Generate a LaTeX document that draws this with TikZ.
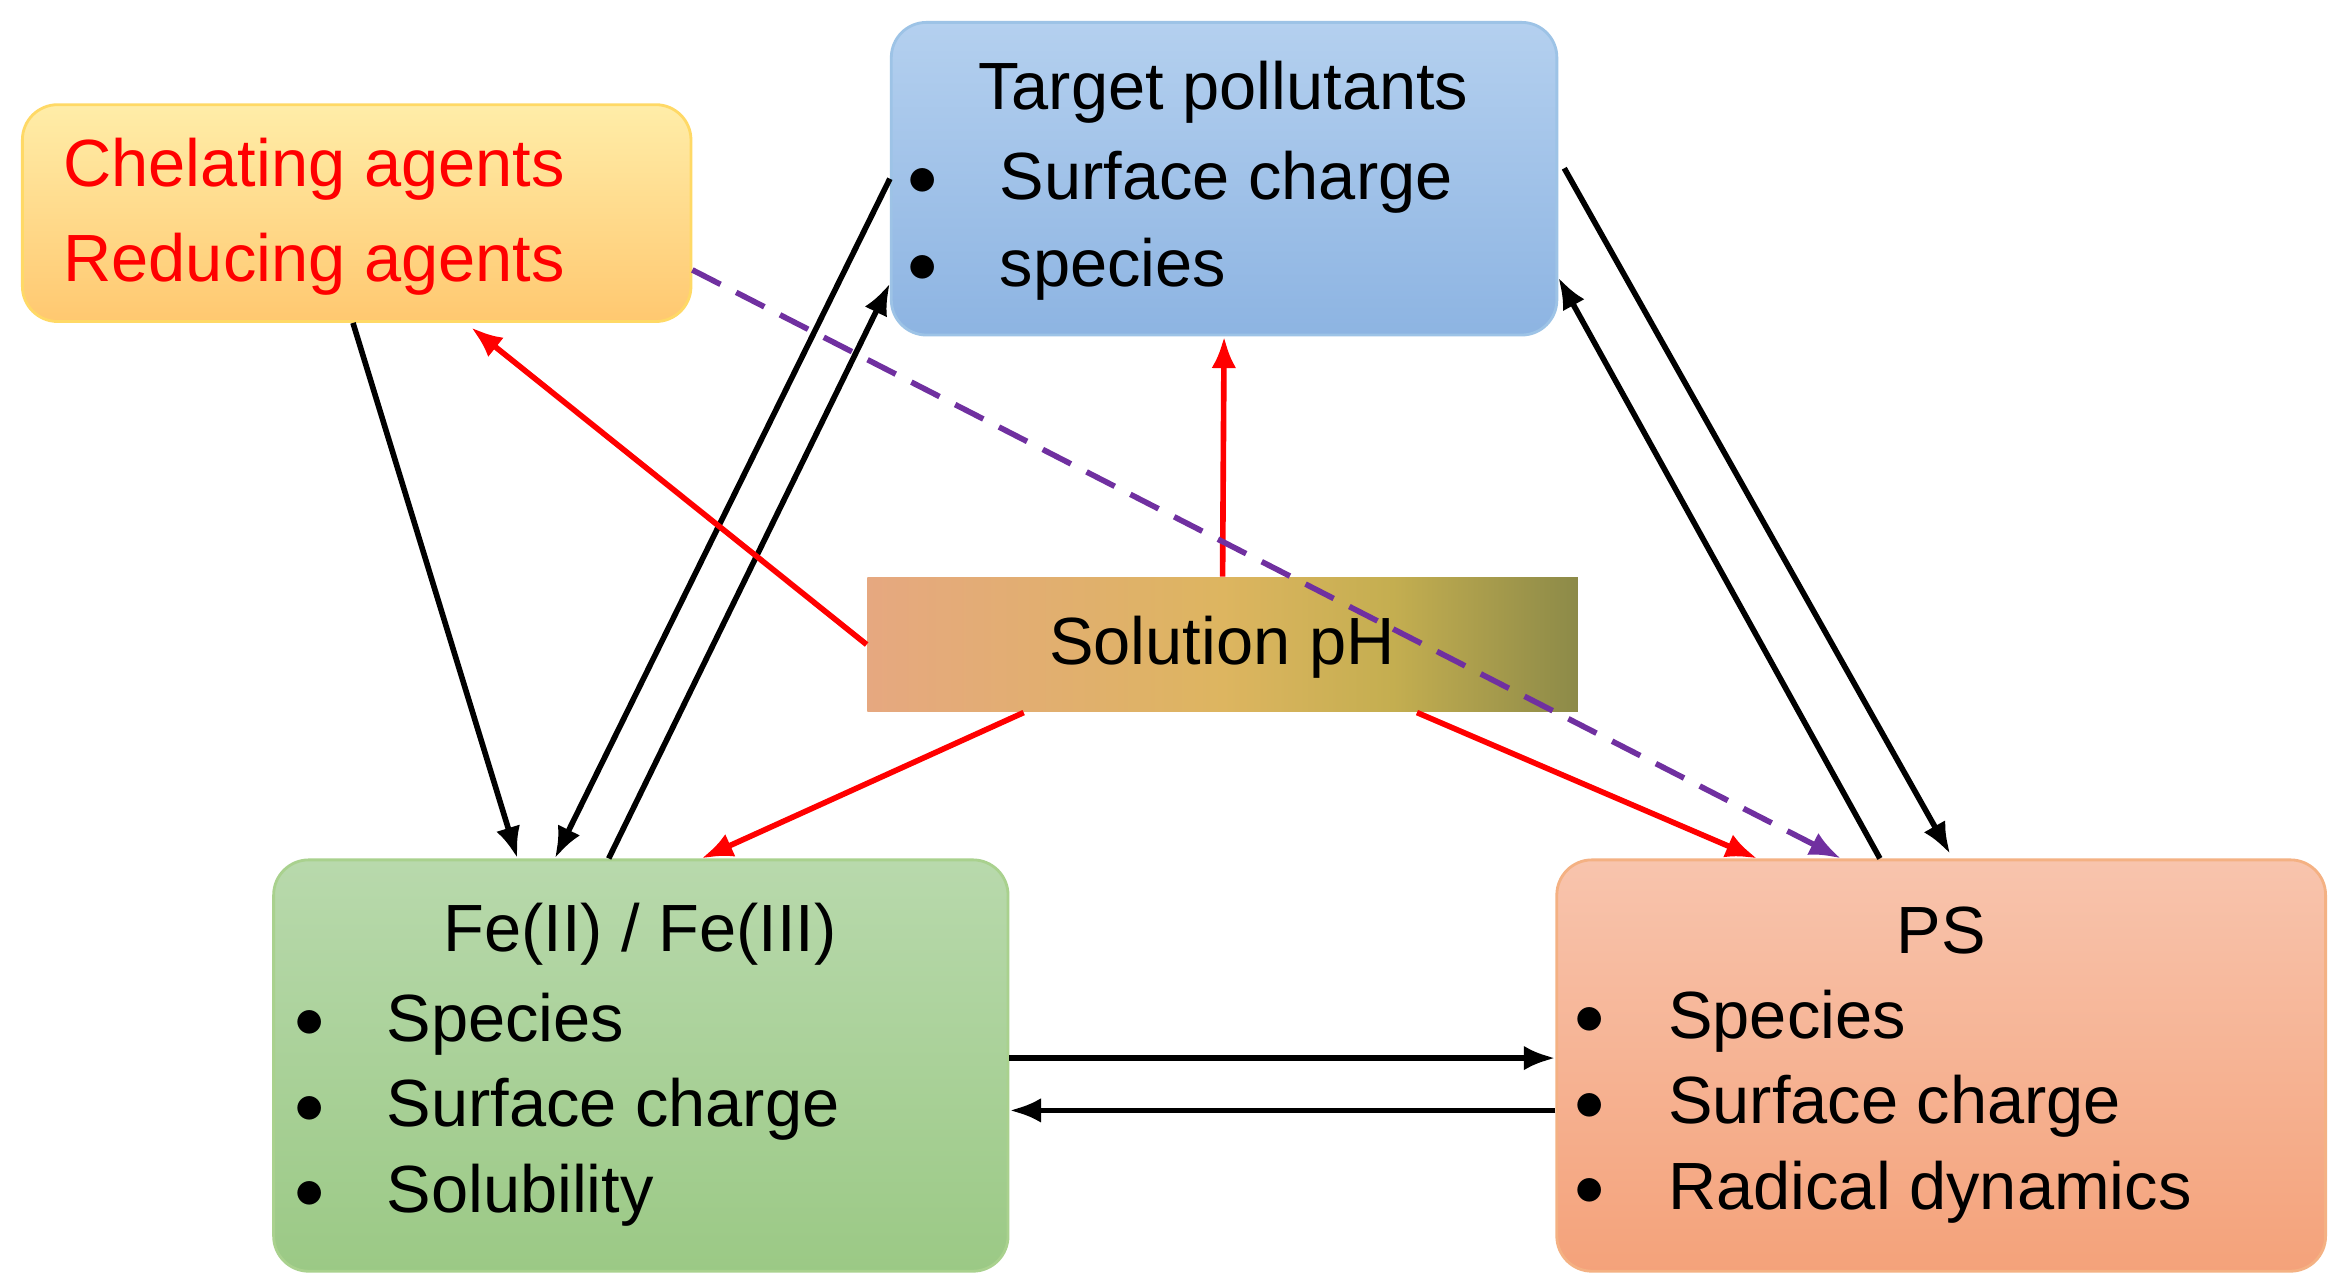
\documentclass[tikz,border=0pt]{standalone}
\usepackage{fontspec}
\setmainfont{Liberation Sans}
\usetikzlibrary{calc,arrows.meta}
\definecolor{chelA}{HTML}{FFEDA8}\definecolor{chelB}{HTML}{FFC870}\definecolor{chelD}{HTML}{FFD966}
\definecolor{tpA}{HTML}{B4D0EF}\definecolor{tpB}{HTML}{8DB4E2}\definecolor{tpD}{HTML}{9DC3E6}
\definecolor{feA}{HTML}{B8D9AC}\definecolor{feB}{HTML}{9BC985}\definecolor{feD}{HTML}{A9D18E}
\definecolor{psA}{HTML}{F8C4AD}\definecolor{psB}{HTML}{F4A27A}\definecolor{psD}{HTML}{F4B183}
\definecolor{dashc}{HTML}{7030A0}
\definecolor{phA}{HTML}{EE9AA8}\definecolor{phB}{HTML}{E6A880}\definecolor{phC}{HTML}{DDB560}
\definecolor{phD}{HTML}{C4AE50}\definecolor{phE}{HTML}{8C8A48}\definecolor{phF}{HTML}{696478}
\pgfdeclarehorizontalshading{phshade}{100bp}{
  color(0bp)=(phA); color(25bp)=(phB); color(50bp)=(phC);
  color(62bp)=(phD); color(75bp)=(phE); color(100bp)=(phF)}
\tikzset{
  box/.style={rounded corners=10pt, line width=0.8pt, inner sep=0},
  txt/.style={font=\fontsize{19}{23}\selectfont, inner sep=0},
  blk/.style={-{Latex[length=9pt,width=7pt]}, line width=1.6pt, black},
  rdl/.style={-{Latex[length=9pt,width=7pt]}, line width=1.6pt, red},
  dsh/.style={-{Latex[length=9pt,width=7pt]}, line width=1.6pt, dashc, dash pattern=on 9pt off 5pt}
}
\begin{document}
\begin{tikzpicture}[x=0.014955cm,y=-0.014955cm]
	\useasboundingbox[fill=white] (0,0) rectangle (1560,861);

	% boxes
	\node[box, draw=chelD, top color=chelA, bottom color=chelB, minimum width=6.685cm, minimum height=2.168cm] (chel) at (238.5,142.5) {};
	\node[box, draw=tpD, top color=tpA, bottom color=tpB, minimum width=6.655cm, minimum height=3.126cm] (tp) at (818.5,119.5) {};
	\node[inner sep=0, shading=phshade, minimum width=7.104cm, minimum height=1.346cm] (ph) at (817.5,431) {};
	\node[box, draw=feD, top color=feA, bottom color=feB, minimum width=7.343cm, minimum height=4.113cm] (fe) at (428.5,712.5) {};
	\node[box, draw=psD, top color=psA, bottom color=psB, minimum width=7.687cm, minimum height=4.113cm] (ps) at (1298,712.5) {};

	% texts
	\node[txt, red, anchor=west] (chel1) at (42,113) {Chelating agents};
	\node[txt, red, anchor=west] (chel2) at (42,177) {Reducing agents};

	\node[txt] (tpt) at (818,62) {Target pollutants};
	\foreach \t/\y in {Surface charge/122, species/180} {
		\node[txt] at (617,\y) {$\bullet$};
		\node[txt, anchor=west] at (668,\y) {\t};
	}

	\node[txt] (pht) at (817,433) {Solution pH};

	\node[txt] (fet) at (428,625) {Fe(II) / Fe(III)};
	\foreach \t/\y in {Species/685, Surface charge/742, Solubility/799} {
		\node[txt] at (207,\y) {$\bullet$};
		\node[txt, anchor=west] at (258,\y) {\t};
	}

	\node[txt] (pst) at (1298,622) {PS};
	\foreach \t/\y in {Species/683, Surface charge/740, Radical dynamics/797} {
		\node[txt] at (1063,\y) {$\bullet$};
		\node[txt, anchor=west] at (1115,\y) {\t};
	}

	% black links
	\draw[blk] ($(chel.south west)+(222,0)$) -- ($(fe.north west)+(164,0)$);
	\draw[blk] (tp.west) -- ($(fe.north west)+(189,0)$);
	\draw[blk] ($(fe.north west)+(225,0)$) -- ($(tp.west)+(0,70)$);
	\draw[blk] ($(tp.east)+(4,-7)$) -- ($(ps.north west)+(264,-3)$);
	\draw[blk] ($(ps.north west)+(217,0)$) -- ($(tp.east)+(0,66)$);
	\draw[blk] ($(fe.east)+(0,-5)$) -- ($(ps.west)+(0,-5)$);
	\draw[blk] ($(ps.west)+(0,30)$) -- ($(fe.east)+(0,30)$);

	% pH links
	\draw[rdl] (ph.west) -- ($(chel.south west)+(301,3)$);
	\draw[rdl] (ph.north) -- (tp.south);
	\draw[rdl] ($(ph.south west)+(105,0)$) -- ($(fe.north west)+(287,0)$);
	\draw[rdl] ($(ph.south west)+(368,0)$) -- ($(ps.north west)+(135,0)$);

	\draw[dsh] ($(chel.east)+(0,38)$) -- ($(ps.north west)+(191,0)$);
\end{tikzpicture}
\end{document}
